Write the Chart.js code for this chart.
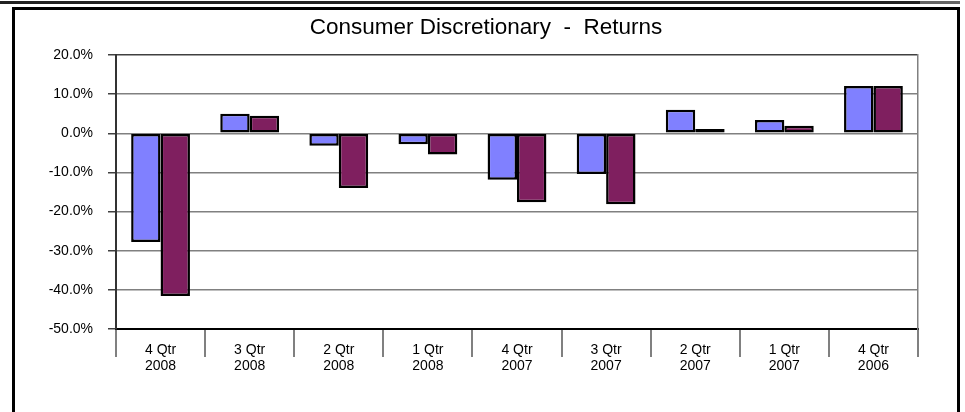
<!DOCTYPE html>
<html>
<head>
<meta charset="utf-8">
<script src="https://cdn.jsdelivr.net/npm/chart.js@4/dist/chart.umd.min.js"></script>
<style>
    html, body { margin: 0; padding: 0; background: #fff; overflow: hidden; }
    #wrap { position: absolute; left: 0; top: 0; width: 965px; height: 412px; }
    .bar-top { position: absolute; top: 1px; height: 3px; }
    #frame { position: absolute; left: 12px; top: 7px; width: 948px; height: 500px;
             box-sizing: border-box; border: 3px solid #000; pointer-events: none; }
</style>
</head>
<body>
<div class="bar-top" style="left:0;width:920px;background:#222;"></div>
<div class="bar-top" style="left:920px;width:40px;background:#666;"></div>
<div id="frame"></div>
<div id="wrap"><canvas id="returnsChart" width="965" height="412"></canvas></div>
<script>
// quarters shown left to right
const quarters = [
    ['4 Qtr', '2008'], ['3 Qtr', '2008'], ['2 Qtr', '2008'], ['1 Qtr', '2008'],
    ['4 Qtr', '2007'], ['3 Qtr', '2007'], ['2 Qtr', '2007'], ['1 Qtr', '2007'],
    ['4 Qtr', '2006']
];
// returns in percent
const sectorReturns = [-27.8, 5.0, -3.2, -2.8, -11.9, -10.4, 6.0, 3.4, 12.1];
const benchmarkReturns = [-41.6, 4.5, -14.0, -5.4, -17.6, -18.1, 1.1, 1.9, 12.1];
const yMin = -50, yMax = 20, yStep = 10;

document.addEventListener('DOMContentLoaded', function() {
    const font = 'Liberation Sans, Arial, sans-serif';
    const ctx = document.getElementById('returnsChart').getContext('2d');

    new Chart(ctx, {
        type: 'bar',
        data: {
            labels: quarters,
            datasets: [{
                label: 'Sector',
                data: sectorReturns,
                backgroundColor: '#8080FF',
                borderColor: '#000',
                borderWidth: 2.5,
                borderSkipped: false
            }, {
                label: 'Benchmark',
                data: benchmarkReturns,
                backgroundColor: '#7F1F5F',
                borderColor: '#000',
                borderWidth: 2.5,
                borderSkipped: false
            }]
        },
        options: {
            responsive: false,
            animation: false,
            categoryPercentage: 0.66,
            barPercentage: 1,
            // left padding keeps the title centred where the reference has it
            layout: { padding: { left: 7, right: 0, top: 0, bottom: 0 } },
            plugins: {
                legend: { display: false },
                tooltip: { enabled: false },
                title: {
                    display: true,
                    text: 'Consumer Discretionary  -  Returns',
                    color: '#000',
                    font: { family: font, size: 22.5, weight: 'normal', lineHeight: 1.2 },
                    padding: { top: 14, bottom: 14 }
                }
            },
            scales: {
                x: {
                    grid: {
                        offset: true,
                        drawOnChartArea: false,
                        drawTicks: true,
                        tickLength: 28,
                        tickColor: '#808080',
                        lineWidth: 2
                    },
                    border: { display: true, color: '#000', width: 2 },
                    ticks: {
                        color: '#000',
                        padding: -15,
                        maxRotation: 0,
                        autoSkip: false,
                        font: { family: font, size: 14, lineHeight: 1.15 }
                    },
                    afterFit: function(scale) { scale.height = 83; }
                },
                y: {
                    min: yMin,
                    max: yMax,
                    ticks: {
                        stepSize: yStep,
                        color: '#000',
                        padding: 15,
                        font: { family: font, size: 14 },
                        callback: function(v) { return v.toFixed(1) + '%'; }
                    },
                    grid: {
                        color: function(c) { return c.tick && c.tick.value === yMax ? '#404040' : '#808080'; },
                        lineWidth: 1.5,
                        tickLength: 8,
                        tickColor: '#404040'
                    },
                    border: { display: true, color: '#333', width: 2 },
                    afterFit: function(scale) { scale.width = 109; }
                },
                yRight: {
                    position: 'right',
                    min: yMin,
                    max: yMax,
                    ticks: { display: false },
                    grid: { display: false },
                    border: { display: true, color: '#808080', width: 1.5 },
                    afterFit: function(scale) { scale.width = 47; }
                }
            }
        }
    });
});
</script>
</body>
</html>
